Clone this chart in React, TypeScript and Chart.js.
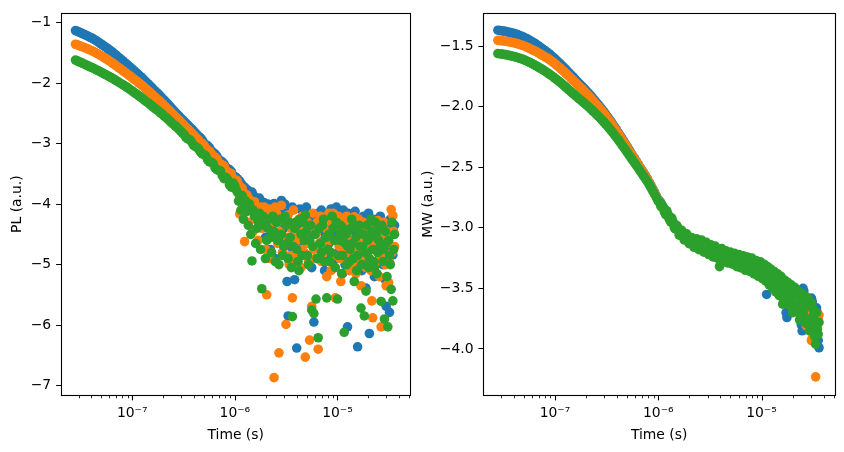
import React, { useEffect, useRef } from 'react';
import { Chart, registerables } from 'chart.js';

Chart.register(...registerables);

// ---- Data (time in ns; values are log10 signals) ----
const timeNs = [
  28, 29.2, 30.4, 31.7, 33, 34.4, 35.8, 37.3, 38.8, 40.4,
  42, 43.8, 45.6, 47.5, 49.5, 51.6, 53.7, 55.9, 58.2, 60.6,
  63.2, 65.8, 68.5, 71.3, 74.3, 77.4, 80.6, 84, 87.5, 91.1,
  94.9, 98.9, 103, 107, 112, 116, 121, 126, 131, 136,
  142, 148, 154, 160, 167, 174, 182, 189, 197, 205,
  214, 223, 232, 241, 251, 262, 273, 284, 296, 308,
  321, 334, 348, 362, 377, 393, 409, 426, 444, 463,
  482, 502, 522, 544, 567, 591, 615, 641, 667, 695,
  723, 754, 785, 818, 851, 886, 923, 961, 1000,
  1028, 1056, 1086, 1116, 1147, 1179, 1212, 1246, 1281, 1316,
  1353, 1391, 1430, 1469, 1510, 1552, 1595, 1640, 1686, 1733,
  1781, 1831, 1882, 1934, 1988, 2044, 2101, 2159, 2219, 2281,
  2345, 2410, 2477, 2547, 2618, 2691, 2766, 2843, 2922, 3004,
  3077, 3152, 3229, 3307, 3388, 3470, 3555, 3641, 3730, 3821,
  3914, 4009, 4107, 4207, 4309, 4414, 4522, 4632, 4745, 4860,
  4979, 5100, 5224, 5351, 5482, 5615, 5752, 5892, 6035, 6182,
  6333, 6487, 6645, 6807, 6972, 7142, 7316, 7494, 7677, 7864,
  8055, 8251, 8452, 8658, 8869, 9085, 9306, 9533, 9765, 10000,
  10190, 10384, 10582, 10783, 10988, 11197, 11410, 11627, 11848, 12073,
  12303, 12537, 12775, 13018, 13266, 13518, 13775, 14037, 14304, 14576,
  14853, 15136, 15424, 15717, 16016, 16321, 16631, 16947, 17269, 17598,
  17933, 18274, 18621, 18976, 19337, 19704, 20079, 20461, 20850, 21247,
  21651, 22063, 22482, 22910, 23346, 23790, 24242, 24703, 25173, 25652,
  26139, 26637, 27143, 27660, 28186, 28722, 29268, 29825, 30392, 30970,
  31559, 32159, 32771, 33394, 34029, 34676, 35336, 36000,
];

const plBlue = [
  -1.130, -1.142, -1.155, -1.168, -1.182, -1.196, -1.210, -1.225, -1.240, -1.255,
  -1.271, -1.289, -1.308, -1.328, -1.348, -1.369, -1.390, -1.411, -1.433, -1.455,
  -1.478, -1.502, -1.527, -1.552, -1.578, -1.603, -1.629, -1.654, -1.680, -1.705,
  -1.731, -1.758, -1.785, -1.812, -1.839, -1.866, -1.893, -1.921, -1.949, -1.978,
  -2.008, -2.037, -2.067, -2.097, -2.128, -2.158, -2.188, -2.219, -2.250, -2.282,
  -2.315, -2.348, -2.381, -2.413, -2.446, -2.478, -2.511, -2.541, -2.572, -2.602,
  -2.632, -2.662, -2.692, -2.722, -2.753, -2.784, -2.816, -2.848, -2.881, -2.905,
  -2.940, -2.990, -3.018, -3.035, -3.070, -3.120, -3.150, -3.170, -3.205, -3.260,
  -3.285, -3.300, -3.335, -3.390, -3.415, -3.430, -3.462, -3.520, -3.545,
  -3.56, -3.58, -3.61, -3.62, -3.66, -3.68, -3.74, -3.72, -3.79, -3.76,
  -3.78, -3.82, -3.95, -3.80, -3.85, -3.88, -4.10, -3.93, -3.95, -3.90,
  -4.35, -4.05, -3.97, -3.98, -4.55, -4.20, -4.00, -4.02, -4.75, -4.45,
  -4.05, -3.99, -4.90, -4.30, -4.10, -4.62, -4.50, -3.94, -4.80, -4.40,
  -4.00, -4.15, -5.28, -5.85, -4.95, -4.70, -4.10, -4.05, -4.60, -5.25,
  -4.40, -6.38, -4.95, -4.30, -4.08, -4.55, -4.70, -4.12, -4.35, -4.85,
  -4.05, -4.25, -5.00, -4.60, -4.45, -5.05, -4.20, -5.95, -4.70, -4.35,
  -4.90, -4.15, -4.30, -4.75, -4.10, -4.45, -4.60, -5.10, -4.85, -4.20,
  -4.40, -4.65, -4.95, -4.08, -4.50, -4.10, -4.25, -4.90, -4.05, -4.40,
  -4.80, -4.55, -4.35, -4.15, -4.65, -5.15, -4.10, -4.70, -5.00, -4.90,
  -4.45, -6.03, -4.15, -4.30, -4.85, -4.60, -4.40, -4.20, -4.75, -5.05,
  -4.12, -4.45, -4.95, -6.36, -4.55, -4.75, -4.35, -4.25, -5.10, -4.95,
  -4.20, -4.50, -4.65, -5.39, -4.85, -4.30, -4.15, -6.14, -4.40, -4.65,
  -5.00, -4.40, -4.25, -5.20, -4.70, -4.55, -4.95, -4.25, -4.50, -4.85,
  -4.20, -4.45, -4.75, -5.00, -4.55, -4.30, -5.25, -5.69, -4.40, -4.60,
  -4.90, -5.79, -4.25, -4.40, -4.70, -4.84, -4.50, -4.35,
];

const plOrange = [
  -1.356, -1.367, -1.378, -1.389, -1.401, -1.413, -1.425, -1.437, -1.450, -1.463,
  -1.477, -1.493, -1.510, -1.527, -1.545, -1.562, -1.580, -1.599, -1.618, -1.638,
  -1.658, -1.679, -1.701, -1.723, -1.745, -1.767, -1.790, -1.812, -1.835, -1.857,
  -1.880, -1.903, -1.927, -1.950, -1.974, -1.997, -2.021, -2.045, -2.069, -2.096,
  -2.123, -2.150, -2.177, -2.204, -2.232, -2.259, -2.286, -2.313, -2.340, -2.370,
  -2.399, -2.430, -2.460, -2.490, -2.520, -2.550, -2.579, -2.609, -2.639, -2.670,
  -2.700, -2.730, -2.760, -2.789, -2.818, -2.849, -2.880, -2.912, -2.943, -2.985,
  -3.000, -3.030, -3.080, -3.110, -3.125, -3.170, -3.210, -3.220, -3.250, -3.310,
  -3.340, -3.350, -3.370, -3.440, -3.470, -3.480, -3.500, -3.580, -3.600,
  -3.60, -3.62, -3.68, -4.16, -3.72, -3.74, -3.80, -4.62, -3.90, -3.85,
  -4.30, -3.92, -4.00, -4.05, -4.45, -3.96, -4.15, -4.25, -4.60, -4.10,
  -4.05, -4.40, -4.20, -4.05, -4.75, -5.50, -4.10, -4.08, -4.90, -4.55,
  -4.30, -6.87, -4.05, -4.15, -4.65, -6.46, -4.45, -4.02, -4.80, -4.70,
  -4.25, -5.99, -4.55, -4.18, -5.00, -4.85, -4.40, -5.55, -4.10, -4.35,
  -4.90, -4.60, -4.50, -4.25, -4.75, -5.05, -4.20, -4.45, -4.80, -6.53,
  -4.65, -4.30, -4.95, -6.25, -4.40, -5.69, -4.15, -4.75, -4.90, -4.50,
  -4.30, -6.40, -4.65, -4.20, -4.95, -4.85, -4.35, -4.60, -4.75, -5.20,
  -4.45, -4.15, -4.60, -5.10, -4.30, -4.15, -4.85, -5.55, -4.60, -4.35,
  -4.20, -4.70, -4.90, -5.28, -4.40, -4.50, -4.75, -4.25, -4.55, -4.95,
  -4.20, -4.40, -4.85, -5.10, -4.35, -4.65, -5.00, -4.30, -4.60, -4.21,
  -4.75, -5.15, -4.40, -4.55, -4.25, -4.80, -4.95, -5.35, -4.60, -4.45,
  -4.30, -4.70, -4.85, -5.05, -4.55, -4.35, -4.65, -4.90, -4.40, -5.10,
  -5.60, -5.88, -4.75, -4.60, -4.35, -4.40, -4.95, -4.27, -4.60, -5.20,
  -4.85, -6.03, -4.55, -4.75, -4.30, -4.50, -5.00, -5.35, -4.45, -4.65,
  -5.30, -4.95, -4.50, -4.09, -4.80, -4.19, -4.45, -4.70,
];

const plGreen = [
  -1.618, -1.631, -1.645, -1.659, -1.673, -1.686, -1.700, -1.714, -1.728, -1.741,
  -1.755, -1.770, -1.786, -1.801, -1.817, -1.832, -1.848, -1.864, -1.880, -1.896,
  -1.912, -1.930, -1.948, -1.967, -1.986, -2.004, -2.023, -2.041, -2.059, -2.080,
  -2.101, -2.123, -2.145, -2.166, -2.188, -2.209, -2.231, -2.253, -2.275, -2.299,
  -2.323, -2.346, -2.370, -2.394, -2.419, -2.443, -2.467, -2.492, -2.517, -2.543,
  -2.569, -2.596, -2.624, -2.651, -2.678, -2.704, -2.731, -2.761, -2.791, -2.821,
  -2.851, -2.900, -2.920, -2.935, -2.965, -3.020, -3.045, -3.060, -3.085, -3.140,
  -3.170, -3.180, -3.205, -3.270, -3.300, -3.310, -3.330, -3.400, -3.430, -3.440,
  -3.450, -3.530, -3.580, -3.560, -3.590, -3.680, -3.720, -3.650, -3.700,
  -3.76, -3.80, -3.95, -3.90, -4.10, -3.86, -4.25, -4.02, -3.95, -4.12,
  -4.35, -4.00, -4.50, -4.94, -4.10, -4.20, -4.65, -4.40, -4.30, -4.15,
  -4.75, -5.40, -4.20, -4.35, -4.90, -4.60, -4.40, -4.25, -4.55, -4.80,
  -4.20, -4.45, -4.95, -4.30, -4.60, -5.00, -4.25, -4.50, -4.85, -4.70,
  -4.20, -4.35, -4.65, -4.90, -4.30, -4.55, -5.05, -5.86, -4.70, -4.40,
  -4.30, -4.75, -4.95, -5.10, -4.25, -4.50, -4.85, -4.30, -4.60, -4.18,
  -4.45, -4.85, -5.00, -4.60, -4.35, -5.75, -4.70, -5.81, -4.50, -5.57,
  -4.90, -6.21, -4.40, -4.65, -4.80, -4.35, -4.25, -4.95, -4.55, -5.55,
  -4.75, -4.50, -4.95, -4.80, -4.20, -4.40, -4.60, -5.05, -4.30, -5.57,
  -4.85, -4.60, -4.50, -4.35, -5.15, -4.85, -4.40, -6.12, -4.65, -4.50,
  -5.00, -4.70, -4.45, -4.95, -4.75, -4.40, -4.25, -4.65, -4.90, -5.28,
  -4.35, -4.55, -5.10, -4.85, -4.45, -4.35, -4.70, -5.72, -5.00, -4.70,
  -4.50, -5.85, -4.80, -5.44, -4.35, -4.60, -5.05, -4.90, -4.55, -4.25,
  -4.45, -4.75, -4.95, -5.05, -4.30, -4.50, -5.15, -4.80, -4.60, -4.40,
  -4.70, -5.61, -4.35, -4.95, -4.75, -5.90, -4.45, -4.65, -5.20, -6.03,
  -4.60, -4.85, -5.00, -5.41, -4.30, -5.60, -4.75, -4.50,
];

const mwBlue = [
  -1.368, -1.370, -1.373, -1.375, -1.378, -1.381, -1.385, -1.388, -1.392, -1.396,
  -1.400, -1.406, -1.412, -1.418, -1.425, -1.432, -1.440, -1.448, -1.457, -1.466,
  -1.475, -1.485, -1.495, -1.506, -1.517, -1.528, -1.539, -1.550, -1.562, -1.575,
  -1.588, -1.601, -1.615, -1.629, -1.644, -1.658, -1.673, -1.688, -1.704, -1.719,
  -1.735, -1.750, -1.766, -1.782, -1.798, -1.814, -1.830, -1.845, -1.861, -1.877,
  -1.894, -1.911, -1.929, -1.946, -1.964, -1.982, -2.001, -2.020, -2.039, -2.059,
  -2.080, -2.101, -2.122, -2.144, -2.167, -2.190, -2.213, -2.236, -2.260, -2.284,
  -2.308, -2.332, -2.357, -2.381, -2.405, -2.429, -2.453, -2.476, -2.500, -2.523,
  -2.547, -2.571, -2.596, -2.624, -2.652, -2.681, -2.710, -2.740, -2.770,
  -2.78, -2.79, -2.82, -2.83, -2.85, -2.86, -2.88, -2.90, -2.91, -2.92,
  -2.94, -2.96, -2.97, -2.98, -3.00, -3.01, -3.02, -3.03, -3.04, -3.05,
  -3.06, -3.06, -3.08, -3.09, -3.08, -3.09, -3.11, -3.11, -3.10, -3.12,
  -3.13, -3.14, -3.12, -3.14, -3.15, -3.16, -3.14, -3.16, -3.17, -3.18,
  -3.16, -3.17, -3.19, -3.19, -3.17, -3.19, -3.21, -3.21, -3.19, -3.20,
  -3.22, -3.23, -3.21, -3.22, -3.24, -3.24, -3.22, -3.23, -3.25, -3.26,
  -3.23, -3.25, -3.27, -3.26, -3.24, -3.27, -3.28, -3.27, -3.26, -3.29,
  -3.29, -3.28, -3.27, -3.30, -3.31, -3.31, -3.28, -3.30, -3.32, -3.33,
  -3.30, -3.32, -3.34, -3.34, -3.31, -3.35, -3.36, -3.34, -3.33, -3.37,
  -3.38, -3.36, -3.35, -3.39, -3.41, -3.55, -3.37, -3.38, -3.42, -3.43,
  -3.39, -3.40, -3.45, -3.46, -3.41, -3.44, -3.47, -3.48, -3.43, -3.45,
  -3.50, -3.51, -3.45, -3.47, -3.53, -3.53, -3.47, -3.50, -3.70, -3.74,
  -3.49, -3.52, -3.57, -3.58, -3.51, -3.55, -3.61, -3.60, -3.53, -3.57,
  -3.63, -3.62, -3.55, -3.59, -3.66, -3.66, -3.80, -3.85, -3.50, -3.52,
  -3.60, -3.68, -3.70, -3.64, -3.62, -3.72, -3.75, -3.67, -3.58, -3.61,
  -3.74, -3.79, -3.88, -3.83, -3.66, -3.70, -3.93, -3.99,
];

const mwOrange = [
  -1.452, -1.453, -1.455, -1.457, -1.459, -1.461, -1.464, -1.467, -1.470, -1.473,
  -1.476, -1.481, -1.486, -1.491, -1.496, -1.502, -1.509, -1.516, -1.523, -1.530,
  -1.538, -1.545, -1.553, -1.562, -1.571, -1.580, -1.589, -1.598, -1.608, -1.619,
  -1.630, -1.642, -1.654, -1.667, -1.680, -1.693, -1.706, -1.720, -1.734, -1.748,
  -1.763, -1.777, -1.792, -1.806, -1.821, -1.836, -1.851, -1.866, -1.881, -1.897,
  -1.913, -1.930, -1.947, -1.964, -1.981, -1.999, -2.017, -2.035, -2.053, -2.073,
  -2.093, -2.113, -2.134, -2.156, -2.178, -2.200, -2.223, -2.246, -2.269, -2.292,
  -2.316, -2.340, -2.364, -2.387, -2.411, -2.434, -2.458, -2.481, -2.505, -2.528,
  -2.552, -2.576, -2.601, -2.629, -2.657, -2.686, -2.715, -2.745, -2.775,
  -2.79, -2.80, -2.83, -2.84, -2.86, -2.87, -2.89, -2.91, -2.92, -2.93,
  -2.95, -2.97, -2.98, -2.99, -3.01, -3.02, -3.03, -3.04, -3.05, -3.06,
  -3.07, -3.07, -3.09, -3.10, -3.09, -3.10, -3.12, -3.12, -3.11, -3.13,
  -3.14, -3.15, -3.13, -3.15, -3.16, -3.17, -3.15, -3.17, -3.18, -3.19,
  -3.17, -3.18, -3.20, -3.20, -3.18, -3.20, -3.22, -3.22, -3.20, -3.21,
  -3.23, -3.24, -3.22, -3.23, -3.25, -3.25, -3.23, -3.24, -3.26, -3.27,
  -3.24, -3.26, -3.28, -3.27, -3.25, -3.28, -3.29, -3.28, -3.27, -3.30,
  -3.30, -3.29, -3.28, -3.31, -3.32, -3.32, -3.29, -3.31, -3.33, -3.34,
  -3.31, -3.33, -3.35, -3.35, -3.32, -3.36, -3.37, -3.35, -3.34, -3.38,
  -3.40, -3.38, -3.37, -3.41, -3.42, -3.41, -3.39, -3.40, -3.45, -3.44,
  -3.41, -3.42, -3.48, -3.47, -3.44, -3.45, -3.50, -3.49, -3.46, -3.48,
  -3.53, -3.52, -3.49, -3.50, -3.56, -3.55, -3.52, -3.53, -3.59, -3.58,
  -3.55, -3.56, -3.62, -3.61, -3.58, -3.59, -3.65, -3.63, -3.60, -3.62,
  -3.67, -3.66, -3.63, -3.64, -3.71, -3.70, -3.66, -3.67, -3.76, -3.74,
  -3.68, -3.69, -3.81, -3.79, -3.70, -3.71, -3.78, -3.68, -3.93, -3.91,
  -3.74, -3.76, -3.86, -4.23, -3.80, -3.82, -3.75, -3.72,
];

const mwGreen = [
  -1.561, -1.563, -1.565, -1.567, -1.570, -1.573, -1.576, -1.579, -1.583, -1.586,
  -1.590, -1.595, -1.600, -1.605, -1.611, -1.617, -1.624, -1.631, -1.638, -1.646,
  -1.654, -1.662, -1.671, -1.680, -1.689, -1.698, -1.708, -1.718, -1.728, -1.739,
  -1.750, -1.761, -1.773, -1.785, -1.797, -1.809, -1.822, -1.835, -1.848, -1.861,
  -1.874, -1.887, -1.900, -1.913, -1.926, -1.939, -1.952, -1.965, -1.978, -1.991,
  -2.005, -2.019, -2.033, -2.047, -2.062, -2.077, -2.092, -2.108, -2.124, -2.141,
  -2.158, -2.176, -2.194, -2.213, -2.232, -2.252, -2.272, -2.293, -2.314, -2.335,
  -2.357, -2.378, -2.400, -2.421, -2.443, -2.464, -2.486, -2.508, -2.530, -2.552,
  -2.574, -2.596, -2.619, -2.644, -2.670, -2.697, -2.724, -2.752, -2.780,
  -2.79, -2.82, -2.81, -2.83, -2.87, -2.89, -2.86, -2.89, -2.93, -2.95,
  -2.92, -2.95, -3.00, -3.01, -2.98, -3.00, -3.06, -3.06, -3.02, -3.05,
  -3.10, -3.09, -3.05, -3.07, -3.13, -3.12, -3.08, -3.10, -3.16, -3.14,
  -3.09, -3.11, -3.18, -3.16, -3.10, -3.13, -3.20, -3.18, -3.12, -3.15,
  -3.22, -3.20, -3.14, -3.16, -3.24, -3.22, -3.15, -3.19, -3.25, -3.23,
  -3.32, -3.30, -3.17, -3.21, -3.27, -3.25, -3.19, -3.22, -3.29, -3.27,
  -3.20, -3.23, -3.30, -3.28, -3.21, -3.24, -3.32, -3.30, -3.22, -3.25,
  -3.33, -3.29, -3.23, -3.26, -3.35, -3.32, -3.24, -3.28, -3.36, -3.34,
  -3.25, -3.29, -3.38, -3.36, -3.27, -3.31, -3.40, -3.38, -3.28, -3.33,
  -3.42, -3.40, -3.30, -3.35, -3.44, -3.42, -3.32, -3.37, -3.47, -3.45,
  -3.34, -3.39, -3.50, -3.47, -3.36, -3.41, -3.53, -3.50, -3.38, -3.43,
  -3.56, -3.52, -3.40, -3.45, -3.63, -3.61, -3.43, -3.48, -3.58, -3.56,
  -3.45, -3.50, -3.64, -3.60, -3.47, -3.52, -3.70, -3.66, -3.49, -3.55,
  -3.67, -3.64, -3.52, -3.57, -3.76, -3.72, -3.54, -3.58, -3.71, -3.68,
  -3.56, -3.61, -3.79, -3.75, -3.58, -3.62, -3.85, -3.80, -3.62, -3.66,
  -3.75, -3.71, -3.90, -3.96, -3.70, -3.84, -3.88, -3.78,
];

const seriesLabels = ['Sample 1', 'Sample 2', 'Sample 3'];
const seriesColors = ['#1f77b4', '#ff7f0e', '#2ca02c'];
const plTicks = [-1, -2, -3, -4, -5, -6, -7];
const mwTicks = [-1.5, -2.0, -2.5, -3.0, -3.5, -4.0];
const xRange = [2.023e-8, 5.14e-5];
const plRange = [-7.157, -0.843];
const mwRange = [-4.38, -1.228];
const xTitle = 'Time (s)';
const plTitle = 'PL (a.u.)';
const mwTitle = 'MW (a.u.)';

const FONT_FAMILY = "'DejaVu Sans', sans-serif";
const FONT_SIZE = 13.9;
const FIG_H = 452;

const SUP: Record<string, string> = {
  '-': '\u207B', '0': '\u2070', '1': '\u00B9', '2': '\u00B2', '3': '\u00B3',
  '4': '\u2074', '5': '\u2075', '6': '\u2076', '7': '\u2077', '8': '\u2078', '9': '\u2079',
};
const supExp = (n: number) => String(n).split('').map((c) => SUP[c] || c).join('');
const isMajor = (v: number) => Math.abs(Math.log10(v) - Math.round(Math.log10(v))) < 1e-6;

const framePlugin = {
  id: 'frame',
  afterDraw(chart: any) {
    const { ctx, chartArea: a, scales } = chart;
    const xs = scales.x;
    ctx.save();
    ctx.strokeStyle = '#000';
    const bottom = Math.round(a.bottom) + 0.5;
    xs.ticks.forEach((t: any) => {
      const major = isMajor(t.value);
      const px = Math.round(xs.getPixelForValue(t.value)) + 0.5;
      ctx.lineWidth = major ? 1.1 : 0.85;
      ctx.beginPath();
      ctx.moveTo(px, bottom);
      ctx.lineTo(px, bottom + (major ? 4.9 : 2.8));
      ctx.stroke();
    });
    ctx.lineWidth = 1.1;
    const l = Math.round(a.left) + 0.5;
    const t = Math.round(a.top) + 0.5;
    ctx.strokeRect(l, t, Math.round(a.right) + 0.5 - l, bottom - t);
    ctx.restore();
  },
};

type PanelProps = {
  series: number[][];
  yRange: number[];
  yTicks: number[];
  yDecimals: number;
  yTitle: string;
  left: number;
  width: number;
  yAxisWidth: number;
  yTitlePad: number;
  padRight: number;
};

function Panel(props: PanelProps) {
  const ref = useRef<HTMLCanvasElement>(null);
  useEffect(() => {
    const { series, yRange, yTicks, yDecimals, yTitle, yAxisWidth, yTitlePad, padRight } = props;
    const font = { family: FONT_FAMILY, size: FONT_SIZE };
    const datasets = series.map((vals, i) => ({
      label: seriesLabels[i],
      data: timeNs.map((t, k) => ({ x: t * 1e-9, y: vals[k] })),
      backgroundColor: seriesColors[i],
      borderColor: seriesColors[i],
      borderWidth: 0,
      pointRadius: 4.8,
      pointHoverRadius: 4.8,
      pointBorderWidth: 0,
      order: series.length - i,
    }));
    const chart = new Chart(ref.current as HTMLCanvasElement, {
      type: 'scatter',
      data: { datasets },
      plugins: [framePlugin],
      options: {
        animation: false,
        responsive: false,
        devicePixelRatio: 1,
        events: [],
        layout: { padding: { top: 9.3, right: padRight, bottom: 0, left: 0 } },
        plugins: { legend: { display: false }, tooltip: { enabled: false } },
        scales: {
          x: {
            type: 'logarithmic',
            min: xRange[0],
            max: xRange[1],
            border: { display: false },
            grid: { display: true, drawOnChartArea: false, drawTicks: false },
            afterBuildTicks: (scale: any) => {
              const ticks: any[] = [];
              for (let e = -9; e <= -4; e++) {
                for (let k = 1; k <= 9; k++) {
                  const v = k * Math.pow(10, e);
                  if (v >= xRange[0] && v <= xRange[1]) ticks.push({ value: v });
                }
              }
              scale.ticks = ticks;
            },
            afterFit: (scale: any) => {
              scale.height = FIG_H - 395;
            },
            ticks: {
              autoSkip: false,
              maxRotation: 0,
              minRotation: 0,
              padding: 9.8,
              color: '#000',
              font,
              callback: (value: any) => {
                const v = Number(value);
                return isMajor(v) ? '10' + supExp(Math.round(Math.log10(v))) : '';
              },
            },
            title: {
              display: true,
              text: xTitle,
              color: '#000',
              font,
              padding: { top: 0, bottom: 8.6 },
            },
          },
          y: {
            type: 'linear',
            min: yRange[0],
            max: yRange[1],
            border: { display: false },
            grid: {
              display: true,
              drawOnChartArea: false,
              drawTicks: true,
              tickLength: 4.9,
              color: '#000',
              lineWidth: 1,
            },
            afterBuildTicks: (scale: any) => {
              scale.ticks = yTicks.map((v) => ({ value: v }));
            },
            afterFit: (scale: any) => {
              scale.width = yAxisWidth;
            },
            ticks: {
              autoSkip: false,
              padding: 4.9,
              color: '#000',
              font,
              callback: (value: any) => {
                const v = Number(value);
                const s = Math.abs(v).toFixed(yDecimals);
                return v < 0 ? '\u2212' + s : s;
              },
            },
            title: {
              display: true,
              text: yTitle,
              color: '#000',
              font,
              padding: { top: yTitlePad, bottom: 0 },
            },
          },
        },
      },
    } as any);
    return () => chart.destroy();
  }, []);
  return (
    <canvas
      ref={ref}
      width={props.width}
      height={FIG_H}
      style={{ position: 'absolute', left: props.left, top: 0, width: props.width, height: FIG_H }}
    />
  );
}

export default function App() {
  return (
    <div style={{ position: 'fixed', left: 0, top: 0, width: 844, height: FIG_H, background: '#fff', overflow: 'hidden' }}>
      <Panel
        series={[plBlue, plOrange, plGreen]}
        yRange={plRange}
        yTicks={plTicks}
        yDecimals={0}
        yTitle={plTitle}
        left={0}
        width={419}
        yAxisWidth={61}
        yTitlePad={8.7}
        padRight={6.3}
      />
      <Panel
        series={[mwBlue, mwOrange, mwGreen]}
        yRange={mwRange}
        yTicks={mwTicks}
        yDecimals={1}
        yTitle={mwTitle}
        left={419}
        width={425}
        yAxisWidth={64.3}
        yTitlePad={0.7}
        padRight={9}
      />
    </div>
  );
}
